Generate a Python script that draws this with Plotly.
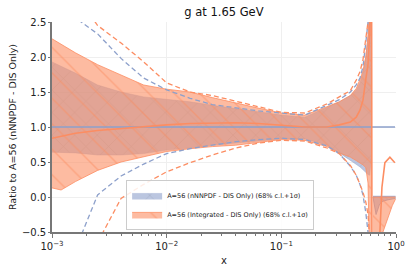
import plotly.graph_objects as go

# ---------------- data ----------------
X = [0.001, 0.0012, 0.0016, 0.0025, 0.004, 0.0063, 0.01, 0.016, 0.025, 0.04, 0.063,
     0.1, 0.16, 0.25, 0.32, 0.4, 0.45, 0.485, 0.515, 0.545, 0.57, 0.59, 0.612]

# nNNPDF - DIS only : 68% c.l. band and +1 sigma dashed lines
blue_upper = [1.93, 1.87, 1.77, 1.60, 1.50, 1.43, 1.39, 1.36, 1.31, 1.26, 1.21,
              1.17, 1.14, 1.28, 1.36, 1.45, 1.53, 1.63, 1.78, 2.00, 2.30, 2.70, 3.60]
blue_lower = [0.64, 0.64, 0.63, 0.60, 0.60, 0.62, 0.67, 0.70, 0.74, 0.77, 0.80,
              0.83, 0.83, 0.74, 0.63, 0.52, 0.47, 0.43, 0.39, 0.35, 0.32, 0.31, 0.60]
blue_sig_up = [3.10, 2.85, 2.56, 2.33, 1.98, 1.70, 1.53, 1.41, 1.32, 1.27, 1.23,
               1.20, 1.17, 1.31, 1.39, 1.50, 1.60, 1.70, 1.86, 2.20, 2.50, 3.00, 3.60]
blue_sig_dn = [-3.0, -1.8, -0.75, 0.03, 0.30, 0.47, 0.62, 0.69, 0.74, 0.79, 0.82,
               0.84, 0.82, 0.73, 0.62, 0.44, 0.31, 0.18, 0.03, -0.22, -0.50, -1.00, -2.00]

# Integrated - DIS only : 68% c.l. band, +1 sigma dashed lines, central value
orange_upper = [2.26, 2.18, 2.06, 1.89, 1.74, 1.60, 1.54, 1.50, 1.42, 1.34, 1.27,
                1.20, 1.17, 1.29, 1.36, 1.45, 1.55, 1.68, 1.80, 2.00, 2.30, 2.70, 3.60]
orange_lower = [0.13, 0.10, 0.22, 0.38, 0.50, 0.57, 0.65, 0.69, 0.72, 0.74, 0.78,
                0.82, 0.81, 0.72, 0.63, 0.57, 0.52, 0.49, 0.46, 0.42, 0.20, -1.00, -3.60]
orange_sig_up = [3.60, 3.30, 2.90, 2.45, 2.20, 1.93, 1.63, 1.50, 1.45, 1.37, 1.29,
                 1.21, 1.20, 1.33, 1.43, 1.52, 1.67, 1.79, 1.96, 2.25, 2.50, 3.00, 3.60]
orange_sig_dn = [-4.0, -3.0, -1.8, -0.65, -0.02, 0.18, 0.36, 0.49, 0.60, 0.70, 0.77,
                 0.81, 0.80, 0.70, 0.62, 0.45, 0.31, 0.18, 0.07, -0.07, -0.25, -0.60, -2.00]

# central ratio of the Integrated fit (pole near x ~ 0.616)
Xc = X + [0.62, 0.70, 0.724, 0.754, 0.80, 0.885, 0.977]
orange_central = [0.84, 0.87, 0.91, 0.95, 0.98, 1.00, 1.03, 1.05, 1.06, 1.06, 1.05,
                  1.03, 1.00, 1.00, 1.03, 1.07, 1.14, 1.24, 1.38, 1.68, 1.89, 2.36, 3.60,
                  -3.6, -2.0, -0.5, 0.14, 0.49, 0.57, 0.49]

# beyond the pole
Xr = [0.63, 0.67, 0.72, 0.77, 0.85, 0.93, 0.99]
blue_upper_r = [0.01, 0.01, 0.01, 0.01, 0.01, 0.01, 0.01]
blue_lower_r = [0.00, -0.25, -0.10, -0.06, -0.04, -0.03, -0.02]
orange_upper_r = [0.00, 0.00, 0.00, 0.00, 0.00, 0.00, 0.00]
orange_lower_r = [-3.6, -3.6, -2.0, -0.5, -0.3, -0.12, -0.03]

blue_ref_x = [0.001, 0.98]
blue_ref_y = [1.0, 1.0]

x_ticks = [0.001, 0.01, 0.1, 1]
x_tick_text = ["10<sup>−3</sup>", "10<sup>−2</sup>", "10<sup>−1</sup>", "10<sup>0</sup>"]
y_ticks = [-0.5, 0.0, 0.5, 1.0, 1.5, 2.0, 2.5]
y_tick_text = ["−0.5", "0.0", "0.5", "1.0", "1.5", "2.0", "2.5"]
minor_ticks = [m * 10.0 ** e for e in (-3, -2, -1) for m in range(2, 10)]

label_blue = "A=56 (nNNPDF - DIS Only) (68% c.l.+1σ)"
label_orange = "A=56 (Integrated - DIS Only) (68% c.l.+1σ)"

# ---------------- styling ----------------
BLUE = "#8da0cb"
ORANGE = "#fc8d62"
BLUE_FILL = "rgba(141,160,203,0.6)"
ORANGE_FILL = "rgba(252,141,98,0.6)"

fig = go.Figure()


def band(xs, lo, hi, fill, pattern, line_color, line_w, name, show):
    fig.add_trace(go.Scatter(x=xs, y=lo, mode="lines", line=dict(color=line_color, width=line_w),
                             showlegend=False, hoverinfo="skip", legendgroup=name))
    fig.add_trace(go.Scatter(x=xs, y=hi, mode="lines", line=dict(color=line_color, width=line_w),
                             fill="tonexty", fillcolor=fill, fillpattern=pattern,
                             name=name, showlegend=show, legendgroup=name))


blue_pat = dict(shape="x", fgcolor="rgba(95,95,115,0.55)", size=16, solidity=0.06, fillmode="overlay")
orange_pat = dict(shape="\\", fgcolor=ORANGE, size=18, solidity=0.08, fillmode="overlay")

band(X, blue_lower, blue_upper, BLUE_FILL, blue_pat, "rgba(141,160,203,0.6)", 0.6, label_blue, True)
band(Xr, blue_lower_r, blue_upper_r, BLUE_FILL, blue_pat, "rgba(141,160,203,0.9)", 1.0, label_blue, False)
band(X, orange_lower, orange_upper, ORANGE_FILL, orange_pat, ORANGE, 0.8, label_orange, True)
band(Xr, orange_lower_r, orange_upper_r, ORANGE_FILL, orange_pat, ORANGE, 0.8, label_orange, False)

for ys, col in [(blue_sig_up, BLUE), (blue_sig_dn, BLUE), (orange_sig_up, ORANGE), (orange_sig_dn, ORANGE)]:
    fig.add_trace(go.Scatter(x=X, y=ys, mode="lines", line=dict(color=col, width=1.3, dash="5px,3px"),
                             showlegend=False, hoverinfo="skip"))

fig.add_trace(go.Scatter(x=blue_ref_x, y=blue_ref_y, mode="lines", line=dict(color=BLUE, width=1.6),
                         showlegend=False))
fig.add_trace(go.Scatter(x=Xc, y=orange_central, mode="lines", line=dict(color=ORANGE, width=1.6),
                         showlegend=False))

fig.update_layout(
    width=412, height=269,
    margin=dict(l=52, r=16, t=22, b=37),
    paper_bgcolor="white", plot_bgcolor="white",
    font=dict(family="DejaVu Sans", size=10, color="#222"),
    title=dict(text="g at 1.65 GeV", x=0.5435, xanchor="center", y=0.955, yanchor="middle",
               font=dict(size=11.5, color="#111")),
    legend=dict(x=0.762, xanchor="right", y=0.01, yanchor="bottom",
                bgcolor="rgba(255,255,255,0.85)", bordercolor="#cccccc", borderwidth=1,
                font=dict(size=6.5, color="#222"), itemwidth=30, tracegroupgap=0,
                traceorder="normal"),
)
fig.update_xaxes(type="log", range=[-3, 0], tickvals=x_ticks, ticktext=x_tick_text,
                 automargin=False,
                 showgrid=True, gridcolor="#efefef", gridwidth=0.8,
                 showline=True, linecolor="#777", linewidth=1.5,
                 ticks="outside", ticklen=4, tickcolor="#777",
                 minor=dict(tickvals=minor_ticks, ticks="outside", ticklen=2, tickcolor="#777", showgrid=False),
                 title=dict(text="x", standoff=6, font=dict(size=10)),
                 zeroline=False)
fig.update_yaxes(range=[-0.5, 2.5], tickvals=y_ticks, ticktext=y_tick_text,
                 automargin=False,
                 showgrid=True, gridcolor="#efefef", gridwidth=0.8,
                 showline=True, linecolor="#777", linewidth=1.5,
                 ticks="outside", ticklen=2, tickcolor="#777",
                 title=dict(text="Ratio to A=56 (nNNPDF - DIS Only)", standoff=4, font=dict(size=9.5)),
                 zeroline=False)

fig.write_html("out.html", config={"displayModeBar": False},
               post_script="document.body.style.margin='0px';document.body.style.overflow='hidden';")
